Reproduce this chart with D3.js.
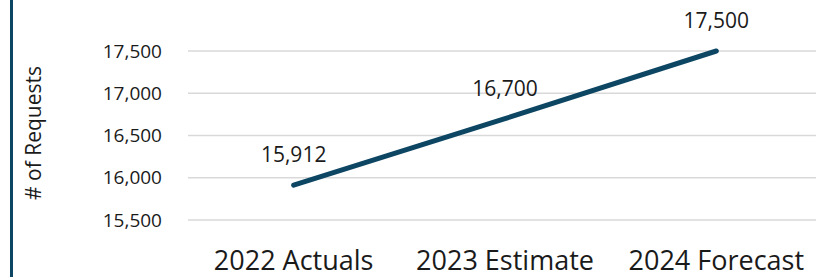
<!DOCTYPE html>
<html>
<head>
<meta charset="utf-8">
<script src="https://cdn.jsdelivr.net/npm/d3@7"></script>
<style>
  body { margin: 0; background: #fff; }
  svg { display: block; font-family: "Open Sans", sans-serif; }
</style>
</head>
<body>
<svg></svg>
<script>
var categories = ["2022 Actuals", "2023 Estimate", "2024 Forecast"];
var requests = [15912, 16700, 17500];
var yTicks = [15500, 16000, 16500, 17000, 17500];

var width = 816, height = 277;
var margin = { top: 51, right: -6, bottom: 57, left: 188 };

var svg = d3.select("svg")
    .attr("width", width)
    .attr("height", height);

// left frame bar
svg.append("line")
    .attr("x1", 11.5).attr("x2", 11.5)
    .attr("y1", 0).attr("y2", height)
    .style("stroke", "#0d4663")
    .style("stroke-width", 3);

var x = d3.scalePoint()
    .domain(categories)
    .range([margin.left, width - margin.right])
    .padding(0.5);

var y = d3.scaleLinear()
    .domain([15500, 17500])
    .range([height - margin.bottom, margin.top]);

// gridlines
svg.append("g")
    .selectAll("line")
    .data(yTicks)
    .enter().append("line")
    .attr("x1", margin.left)
    .attr("x2", width)
    .attr("y1", function(d) { return y(d); })
    .attr("y2", function(d) { return y(d); })
    .style("stroke", "#d9d9d9")
    .style("stroke-width", 1.5);

var fmt = d3.format(",");

// y tick labels
svg.append("g")
    .selectAll("text")
    .data(yTicks)
    .enter().append("text")
    .attr("x", 162)
    .attr("y", function(d) { return y(d); })
    .attr("dy", "0.35em")
    .style("text-anchor", "end")
    .style("font-size", "19px")
    .style("fill", "#1a1a1a")
    .text(function(d) { return fmt(d); });

// y axis title
svg.append("text")
    .attr("transform", "translate(41," + 133 + ") rotate(-90)")
    .style("text-anchor", "middle")
    .style("font-size", "21px")
    .style("fill", "#1a1a1a")
    .text("# of Requests");

// category labels
svg.append("g")
    .selectAll("text")
    .data(categories)
    .enter().append("text")
    .attr("x", function(d) { return x(d); })
    .attr("y", 270)
    .style("text-anchor", "middle")
    .style("font-size", "27px")
    .style("fill", "#1a1a1a")
    .text(function(d) { return d; });

var line = d3.line()
    .x(function(d, i) { return x(categories[i]); })
    .y(function(d) { return y(d); });

svg.append("path")
    .datum(requests)
    .attr("d", line)
    .style("fill", "none")
    .style("stroke", "#0d4663")
    .style("stroke-width", 5)
    .style("stroke-linecap", "round");

// data labels
svg.append("g")
    .selectAll("text")
    .data(requests)
    .enter().append("text")
    .attr("x", function(d, i) { return x(categories[i]); })
    .attr("y", function(d) { return y(d) - 23; })
    .style("text-anchor", "middle")
    .style("font-size", "21px")
    .style("fill", "#1a1a1a")
    .text(function(d) { return fmt(d); });
</script>
</body>
</html>
